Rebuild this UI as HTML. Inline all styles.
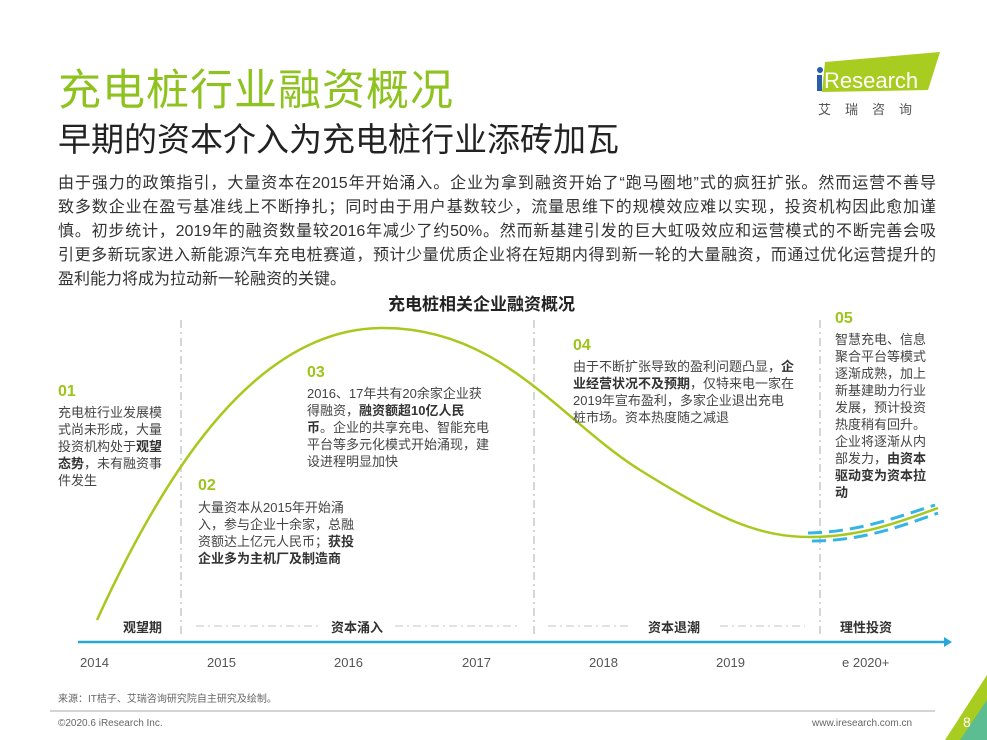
<!DOCTYPE html>
<html><head><meta charset="utf-8"><style>
*{margin:0;padding:0}
body{width:987px;height:740px;background:#fff;position:relative;overflow:hidden;font-family:"Liberation Sans","Noto Sans CJK SC",sans-serif;color:#404040}
.a{position:absolute;white-space:nowrap}
.t{font-size:13px;line-height:17px;color:#444}
.n{font-size:16px;font-weight:bold;color:#9dc41a;line-height:18px}
b{color:#333}
.lab{font-size:13px;font-weight:bold;color:#333}
.yr{font-size:13px;color:#555}
.p div{text-align:justify;text-align-last:justify;height:24px;white-space:nowrap}
</style></head><body>
<div class="a" style="left:58px;top:56px;font-size:43px;color:#8dc21f;letter-spacing:1px">充电桩行业融资概况</div>
<div class="a" style="left:58px;top:113px;font-size:33px;color:#222">早期的资本介入为充电桩行业添砖加瓦</div>
<svg class="a" style="left:800px;top:50px" width="150" height="70">
<polygon points="25,12 140,2 128,40 22,42" fill="#a8cc1f"/>
<circle cx="20" cy="20" r="3" fill="#2a5caa"/>
<rect x="17" y="25" width="5" height="16" fill="#2a5caa"/>
<text x="24" y="38" font-size="22" fill="#fff" font-family="Liberation Sans">Research</text>
<text x="18" y="64" font-size="13" fill="#555" letter-spacing="14" font-family="Noto Sans CJK SC">艾瑞咨询</text>
</svg>
<div class="a p" style="left:58px;top:172px;width:878px;font-size:16px;line-height:24px;color:#333">
<div>由于强力的政策指引，大量资本在2015年开始涌入。企业为拿到融资开始了“跑马圈地”式的疯狂扩张。然而运营不善导</div>
<div>致多数企业在盈亏基准线上不断挣扎；同时由于用户基数较少，流量思维下的规模效应难以实现，投资机构因此愈加谨</div>
<div>慎。初步统计，2019年的融资数量较2016年减少了约50%。然而新基建引发的巨大虹吸效应和运营模式的不断完善会吸</div>
<div>引更多新玩家进入新能源汽车充电桩赛道，预计少量优质企业将在短期内得到新一轮的大量融资，而通过优化运营提升的</div>
<div style="text-align-last:left">盈利能力将成为拉动新一轮融资的关键。</div>
</div>
<div class="a" style="left:388px;top:290px;font-size:17px;font-weight:bold;color:#222">充电桩相关企业融资概况</div>
<svg class="a" style="left:0;top:0" width="987" height="740">
<g stroke="#c8c8c8" stroke-width="1.5" stroke-dasharray="8,4,2,4">
<line x1="181" y1="320" x2="181" y2="635"/><line x1="534" y1="320" x2="534" y2="635"/><line x1="820" y1="320" x2="820" y2="635"/>
</g>
<g stroke="#d0d0d0" stroke-width="1.2" stroke-dasharray="8,4,2,4">
<line x1="196" y1="626" x2="320" y2="626"/><line x1="395" y1="626" x2="520" y2="626"/>
<line x1="548" y1="626" x2="630" y2="626"/><line x1="720" y1="626" x2="805" y2="626"/>
</g>
<path d="M97,620 C170,460 260,330 380,328 C500,326 560,420 640,470 C720,520 760,537 810,537 C860,537 900,522 938,508" fill="none" stroke="#a8c81e" stroke-width="2.5"/>
<g fill="none" stroke="#36b4e5" stroke-width="3" stroke-dasharray="14,7">
<path d="M808,533 C860,532 900,516 935,505"/><path d="M812,541 C862,541 902,526 938,513"/>
</g>
<line x1="78" y1="642" x2="944" y2="642" stroke="#29a8d8" stroke-width="2.5"/>
<polygon points="944,637 952,642 944,647" fill="#29a8d8"/>
<line x1="50" y1="711" x2="935" y2="711" stroke="#aaa" stroke-width="1"/>
<polygon points="987,675 987,740 945,740" fill="#a8cc1f"/>
<polygon points="987,700 987,740 960,740" fill="#29b0e0" opacity="0.6"/>
</svg>
<div class="a lab" style="left:123px;top:617px">观望期</div>
<div class="a lab" style="left:331px;top:617px">资本涌入</div>
<div class="a lab" style="left:648px;top:617px">资本退潮</div>
<div class="a lab" style="left:840px;top:617px">理性投资</div>
<div class="a yr" style="left:80px;top:655px">2014</div>
<div class="a yr" style="left:207px;top:655px">2015</div>
<div class="a yr" style="left:334px;top:655px">2016</div>
<div class="a yr" style="left:462px;top:655px">2017</div>
<div class="a yr" style="left:589px;top:655px">2018</div>
<div class="a yr" style="left:716px;top:655px">2019</div>
<div class="a yr" style="left:842px;top:655px">e 2020+</div>
<div class="a" style="left:58px;top:690px;font-size:10px;color:#666">来源：IT桔子、艾瑞咨询研究院自主研究及绘制。</div>
<div class="a" style="left:58px;top:718px;font-size:10px;color:#666">©2020.6 iResearch Inc.</div>
<div class="a" style="left:812px;top:718px;font-size:10px;color:#666">www.iresearch.com.cn</div>
<div class="a" style="left:963px;top:714px;font-size:14px;color:#fff">8</div>

<div class="a n" style="left:58px;top:383px">01</div>
<div class="a t" style="left:58px;top:404px">充电桩行业发展模<br>式尚未形成，大量<br>投资机构处于<b>观望</b><br><b>态势</b>，未有融资事<br>件发生</div>
<div class="a n" style="left:198px;top:477px">02</div>
<div class="a t" style="left:198px;top:499px">大量资本从2015年开始涌<br>入，参与企业十余家，总融<br>资额达上亿元人民币；<b>获投</b><br><b>企业多为主机厂及制造商</b></div>
<div class="a n" style="left:307px;top:364px">03</div>
<div class="a t" style="left:307px;top:385px">2016、17年共有20余家企业获<br>得融资，<b>融资额超10亿人民</b><br><b>币</b>。企业的共享充电、智能充电<br>平台等多元化模式开始涌现，建<br>设进程明显加快</div>
<div class="a n" style="left:573px;top:337px">04</div>
<div class="a t" style="left:573px;top:358px">由于不断扩张导致的盈利问题凸显，<b>企</b><br><b>业经营状况不及预期</b>，仅特来电一家在<br>2019年宣布盈利，多家企业退出充电<br>桩市场。资本热度随之减退</div>
<div class="a n" style="left:835px;top:310px">05</div>
<div class="a t" style="left:835px;top:331px">智慧充电、信息<br>聚合平台等模式<br>逐渐成熟，加上<br>新基建助力行业<br>发展，预计投资<br>热度稍有回升。<br>企业将逐渐从内<br>部发力，<b>由资本</b><br><b>驱动变为资本拉</b><br><b>动</b></div>
</body></html>
